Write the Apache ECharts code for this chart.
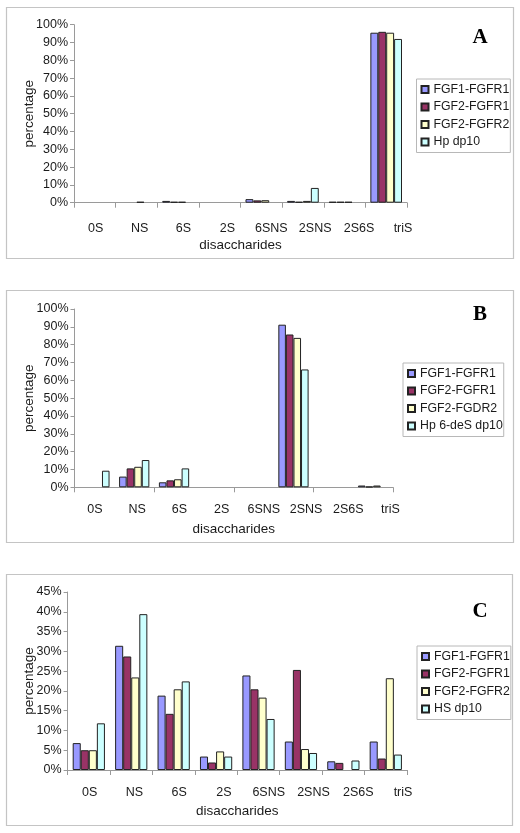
<!DOCTYPE html>
<html>
<head>
<meta charset="utf-8">
<script src="https://cdn.jsdelivr.net/npm/echarts@6/dist/echarts.min.js"></script>
<style>
html,body{margin:0;padding:0;background:#fff;}
#chart{width:520px;height:833px;}
</style>
</head>
<body>
<div id="chart"></div>
<script>
// ---- data ----
const categories = ['0S', 'NS', '6S', '2S', '6SNS', '2SNS', '2S6S', 'triS'];

const namesA = ['FGF1-FGFR1', 'FGF2-FGFR1', 'FGF2-FGFR2', 'Hp dp10'];
const a_fgf1_fgfr1 = [0, 0, 1.0, 0, 2.0, 1.0, 0.5, 95.5];
const a_fgf2_fgfr1 = [0, 0, 0.5, 0, 1.3, 0.5, 0.5, 96.0];
const a_fgf2_fgfr2 = [0, 0.5, 0.5, 0, 1.4, 1.0, 0.5, 95.5];
const a_hp_dp10    = [0, 0, 0, 0, 0, 8.3, 0, 92.0];

const namesB = ['FGF1-FGFR1', 'FGF2-FGFR1', 'FGF2-FGDR2', 'Hp 6-deS dp10'];
const b_fgf1_fgfr1 = [0, 6.0, 2.8, 0, 0, 91.2, 0, 1.0];
const b_fgf2_fgfr1 = [0, 10.6, 3.9, 0, 0, 85.7, 0, 0.4];
const b_fgf2_fgdr2 = [0, 11.5, 4.5, 0, 0, 83.8, 0, 1.0];
const b_hp6des     = [9.3, 15.3, 10.6, 0, 0, 66.1, 0, 0];

const namesC = ['FGF1-FGFR1', 'FGF2-FGFR1', 'FGF2-FGFR2', 'HS dp10'];
const c_fgf1_fgfr1 = [6.8, 31.4, 18.8, 3.4, 23.9, 7.2, 2.2, 7.2];
const c_fgf2_fgfr1 = [5.0, 28.7, 14.2, 1.9, 20.4, 25.3, 1.8, 2.9];
const c_fgf2_fgfr2 = [5.0, 23.4, 20.4, 4.7, 18.3, 5.3, 0, 23.2];
const c_hs_dp10    = [11.8, 39.4, 22.4, 3.4, 12.9, 4.3, 2.4, 3.9];

const panelLetters = ['A', 'B', 'C'];
const yMaxes = [100, 100, 45];
const yIntervals = [10, 10, 5];

// ---- styling ----
const colors = ['#9999FF', '#993366', '#FFFFCC', '#CCFFFF'];
const FONT = '"Liberation Sans", Arial, sans-serif';
const TXT = '#1a1a1a';
const AXIS = '#9a9a9a';

const panels = [
  { names: namesA, data: [a_fgf1_fgfr1, a_fgf2_fgfr1, a_fgf2_fgfr2, a_hp_dp10],
    grid: { left: 74, top: 24.7, width: 333, height: 178 },
    labelGrid: { left: 73.75, width: 351.2 }, labelMargin: 19, nameGapX: 36, nameGapY: 38,
    legend: { left: 416.5, top: 79 }, box: [6, 7, 507, 251], letter: [480, 38] },
  { names: namesB, data: [b_fgf1_fgfr1, b_fgf2_fgfr1, b_fgf2_fgdr2, b_hp6des],
    grid: { left: 74.5, top: 309, width: 318.5, height: 178.3 },
    labelGrid: { left: 73.9, width: 337.7 }, labelMargin: 16, nameGapX: 35, nameGapY: 38,
    legend: { left: 403, top: 363 }, box: [6, 290, 507, 252], letter: [480, 315] },
  { names: namesC, data: [c_fgf1_fgfr1, c_fgf2_fgfr1, c_fgf2_fgfr2, c_hs_dp10],
    grid: { left: 67.6, top: 592, width: 339.4, height: 178 },
    labelGrid: { left: 67.3, width: 358.1 }, labelMargin: 16.5, nameGapX: 34, nameGapY: 31.5,
    legend: { left: 417, top: 646 }, box: [6, 574, 506, 251], letter: [480, 612] }
];

const grids = [], xAxes = [], yAxes = [], series = [], legends = [], graphics = [];

panels.forEach((p, i) => {
  grids.push(Object.assign({ outerBoundsMode: 'none', containLabel: false }, p.grid));
});
panels.forEach((p, i) => {
  grids.push({ outerBoundsMode: 'none', containLabel: false, left: p.labelGrid.left, width: p.labelGrid.width,
               top: p.grid.top, height: p.grid.height });
});

panels.forEach((p, i) => {
  xAxes.push({
    type: 'category', gridIndex: i, data: categories,
    axisLine: { show: true, lineStyle: { color: AXIS, width: 1 } },
    axisTick: { show: true, length: 5, lineStyle: { color: AXIS } },
    axisLabel: { show: false },
    name: 'disaccharides', nameLocation: 'middle', nameGap: p.nameGapX, nameMoveOverlap: false,
    nameTextStyle: { fontSize: 13.5, color: TXT, fontFamily: FONT }
  });
  yAxes.push({
    type: 'value', gridIndex: i, min: 0, max: yMaxes[i], interval: yIntervals[i],
    axisLine: { show: true, lineStyle: { color: AXIS, width: 1 } },
    axisTick: { show: true, length: 4, lineStyle: { color: AXIS } },
    splitLine: { show: false },
    axisLabel: { formatter: '{value}%', fontSize: 12.5, color: TXT, fontFamily: FONT, margin: 6,
                 padding: [6, 0, 0, 0] },
    name: 'percentage', nameLocation: 'middle', nameGap: p.nameGapY, nameRotate: 90, nameMoveOverlap: false,
    nameTextStyle: { fontSize: 13.5, color: TXT, fontFamily: FONT }
  });
});
panels.forEach((p, i) => {
  xAxes.push({
    type: 'category', gridIndex: 3 + i, data: categories,
    axisLine: { show: false }, axisTick: { show: false },
    axisLabel: { fontSize: 12.5, color: TXT, fontFamily: FONT, margin: p.labelMargin, interval: 0 }
  });
  yAxes.push({ type: 'value', gridIndex: 3 + i, show: false, min: 0, max: 1 });
});

panels.forEach((p, i) => {
  p.names.forEach((name, k) => {
    series.push({
      type: 'bar', name: name, xAxisIndex: i, yAxisIndex: i,
      // a zero share is drawn as no bar at all
      data: p.data[k].map(v => (v === 0 ? null : v)),
      barGap: '0%', barCategoryGap: '24%',
      itemStyle: { color: colors[k], borderColor: '#222', borderWidth: 1 },
      emphasis: { disabled: true }
    });
  });
  legends.push({
    orient: 'vertical', left: p.legend.left, top: p.legend.top,
    data: p.names, icon: 'rect', itemWidth: 7, itemHeight: 7, itemGap: 2.5,
    padding: [3, 1, 3, 4], borderColor: '#b8b8b8', borderWidth: 1,
    textStyle: { fontSize: 12.3, color: TXT, fontFamily: FONT, lineHeight: 15 },
    selectedMode: false
  });
  graphics.push({
    type: 'rect', silent: true, z: -1,
    shape: { x: p.box[0] + 0.5, y: p.box[1] + 0.5, width: p.box[2], height: p.box[3] },
    style: { fill: null, stroke: '#c4c4c4', lineWidth: 1.2 }
  });
  graphics.push({
    type: 'text', silent: true,
    x: p.letter[0], y: p.letter[1],
    style: { text: panelLetters[i], font: 'bold 21px "Liberation Serif", "Times New Roman", serif',
             fill: '#000', align: 'center', verticalAlign: 'middle' }
  });
});

const chart = echarts.init(document.getElementById('chart'), null, { renderer: 'canvas' });
chart.setOption({
  animation: false,
  backgroundColor: '#ffffff',
  textStyle: { fontFamily: FONT },
  grid: grids, xAxis: xAxes, yAxis: yAxes, series: series, legend: legends,
  graphic: graphics
});
</script>
</body>
</html>
